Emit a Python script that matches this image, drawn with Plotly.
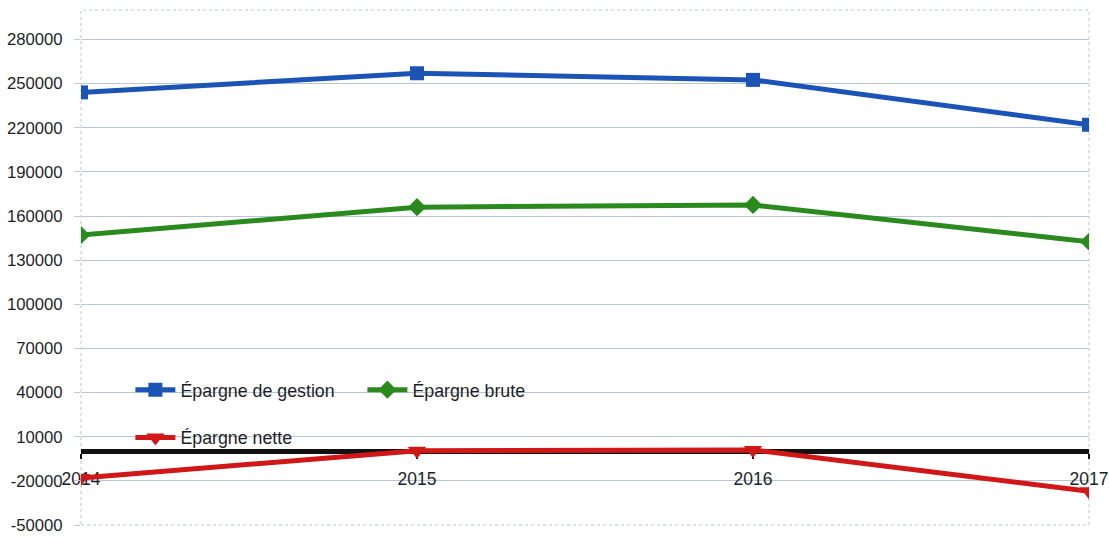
import plotly.graph_objects as go

years = [2014, 2015, 2016, 2017]
epargne_gestion = [244000, 257000, 252500, 222000]
epargne_brute = [147000, 166000, 167500, 142500]
epargne_nette = [-18000, 500, 1000, -27000]
names = ["Épargne de gestion", "Épargne brute", "Épargne nette"]
y_ticks = list(range(-50000, 300001, 30000))

fig = go.Figure()
fig.add_trace(go.Scatter(x=years, y=epargne_gestion, name=names[0], mode="lines+markers",
                         line=dict(color="#1c54b6", width=5),
                         marker=dict(symbol="square", size=14, color="#1c54b6"),
                         legend="legend"))
fig.add_trace(go.Scatter(x=years, y=epargne_brute, name=names[1], mode="lines+markers",
                         line=dict(color="#2a8a1e", width=5),
                         marker=dict(symbol="diamond", size=14, color="#2a8a1e"),
                         legend="legend"))
fig.add_trace(go.Scatter(x=years, y=epargne_nette, name=names[2], mode="lines+markers",
                         line=dict(color="#d01818", width=5),
                         marker=dict(symbol="triangle-down", size=16, color="#d01818"),
                         legend="legend2"))

ymin, ymax = -50000, 300000
zero_pos = (0 - ymin) / (ymax - ymin)
txt = "#1e1e2a"

fig.update_layout(
    width=1109, height=537,
    margin=dict(l=81, r=20, t=10, b=12),
    paper_bgcolor="white", plot_bgcolor="white",
    font=dict(family="Liberation Sans, Arial, sans-serif", size=17.5, color=txt),
    xaxis=dict(range=[2014, 2017], tickvals=years, ticktext=[str(y) for y in years],
               anchor="free", position=zero_pos, showgrid=False, zeroline=False,
               showline=True, linecolor="#111111", linewidth=5,
               ticks="outside", ticklen=5, tickwidth=2, tickcolor="#111111",
               ticklabelstandoff=5, layer="below traces", automargin=False,
               tickfont=dict(size=17.5, color=txt)),
    yaxis=dict(range=[ymin, ymax], tickvals=y_ticks, ticktext=[str(v) for v in y_ticks],
               showgrid=True, gridcolor="#b9c6d8", gridwidth=1, zeroline=False,
               showline=False, ticks="outside", ticklen=6, tickcolor="#c0c8d4",
               ticklabelstandoff=8, automargin=False,
               tickfont=dict(size=16.7, color=txt)),
    legend=dict(orientation="h", x=0.049, y=0.262, xanchor="left", yanchor="middle",
                bgcolor="rgba(0,0,0,0)", entrywidth=177, entrywidthmode="pixels",
                font=dict(size=17.8, color=txt), itemwidth=40),
    legend2=dict(orientation="h", x=0.049, y=0.169, xanchor="left", yanchor="middle",
                 bgcolor="rgba(0,0,0,0)", font=dict(size=17.8, color=txt), itemwidth=40),
    showlegend=True,
)
fig.add_shape(type="rect", xref="paper", yref="paper", x0=0, x1=1, y0=0, y1=1,
              line=dict(color="#b9c6d8", width=1, dash="dot"), layer="below")

fig.write_html("out.html", config={"displayModeBar": False},
               post_script="document.body.style.margin='0';document.body.style.overflow='hidden';")
